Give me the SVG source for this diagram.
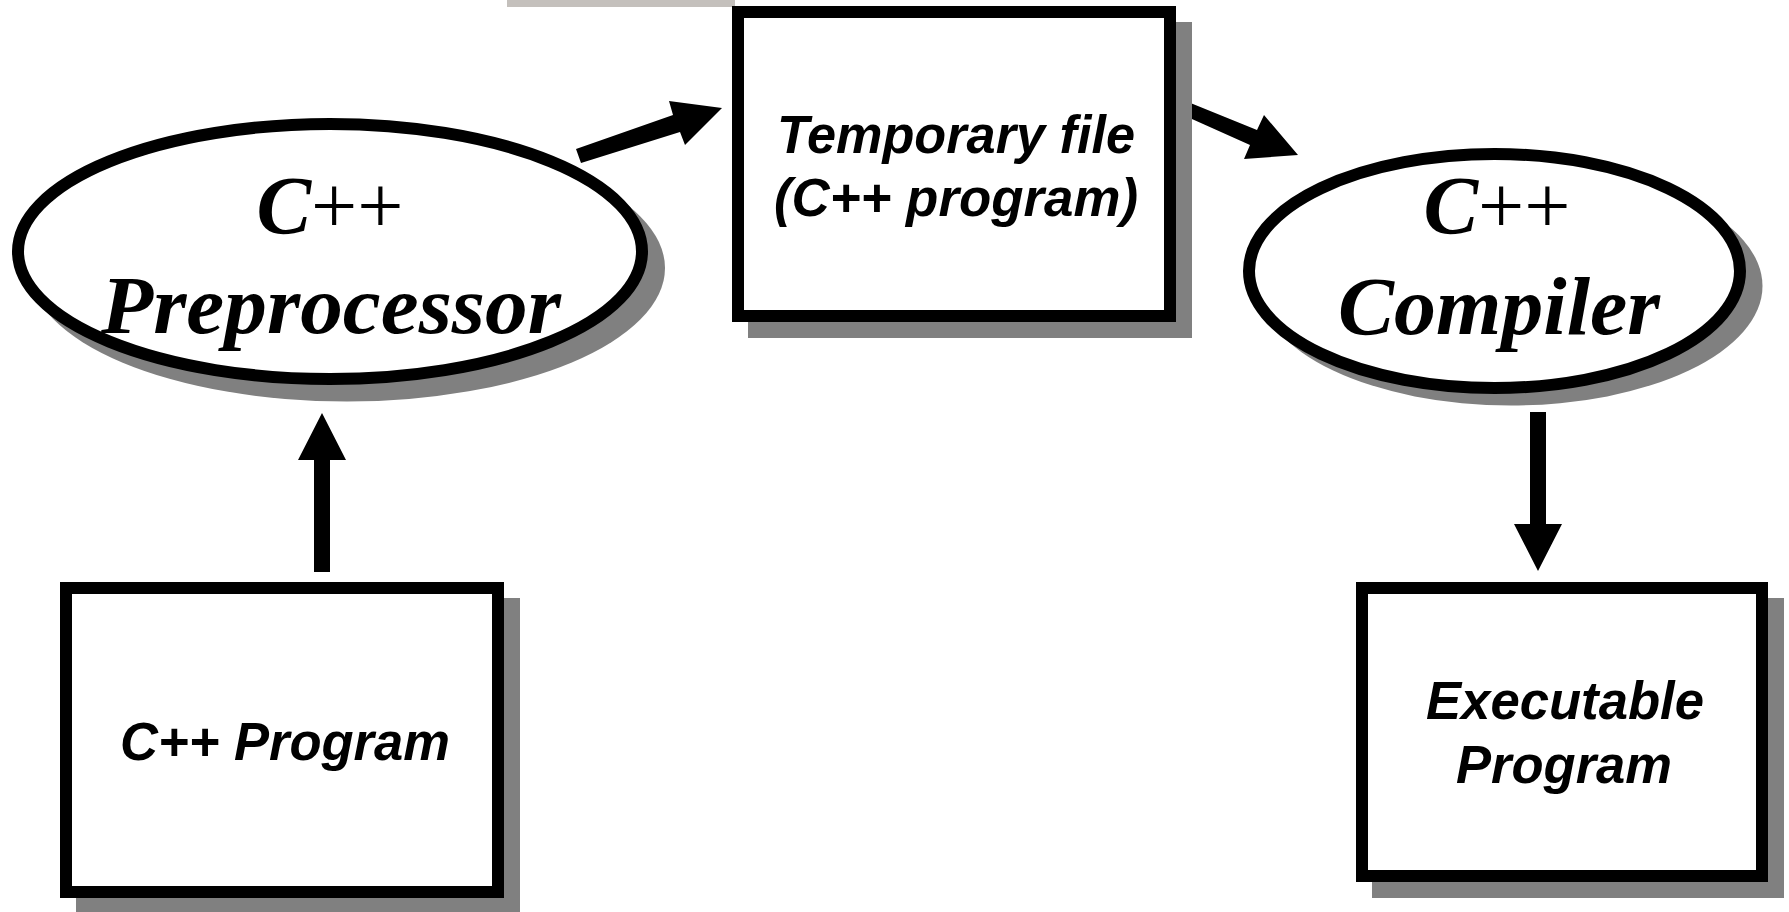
<svg xmlns="http://www.w3.org/2000/svg" width="1789" height="912" viewBox="0 0 1789 912">
<style>
.shadow{fill:#808080;stroke:none}
.box{fill:#fff;stroke:#000;stroke-width:12}
.arrow{fill:#000;stroke:none}
.sans{font-family:"Liberation Sans",Arial,sans-serif;font-weight:bold;font-style:italic;font-size:53px;fill:#000}
.serif{font-family:"Liberation Serif","Times New Roman",serif;font-weight:bold;font-style:italic;font-size:82px;fill:#000}
.plus{font-weight:normal;font-style:normal}
</style>
<rect x="0" y="0" width="1789" height="912" fill="#fff"/>
<rect x="507" y="0" width="228" height="7" fill="#c4c0bc"/>
<g id="connectors">
<polygon class="arrow" points="576,149 673,115 669,101 722,108 685,145 680,132 581,163"/>
<polygon class="arrow" points="1188,102 1257,130 1264,115 1298,155 1244,159 1250,145 1183,115"/>
<polygon class="arrow" points="314,572 314,460 298,460 322,413 346,460 330,460 330,572"/>
<polygon class="arrow" points="1530,412 1530,524 1514,524 1538,571 1562,524 1546,524 1546,412"/>
</g>
<g id="preprocessor">
<ellipse class="shadow" cx="347" cy="268" rx="318" ry="133.5"/>
<ellipse class="box" cx="330" cy="251.5" rx="312" ry="127.5"/>
<text class="serif" x="330" y="233" text-anchor="middle" font-size="90">C<tspan class="plus">++</tspan></text>
<text class="serif" x="331" y="333" text-anchor="middle" textLength="460" lengthAdjust="spacingAndGlyphs">Preprocessor</text>
</g>
<g id="tempfile">
<rect class="shadow" x="748" y="22" width="444" height="316"/>
<rect class="box" x="738" y="12" width="432" height="304"/>
<text class="sans" x="956" y="153" text-anchor="middle" textLength="358" lengthAdjust="spacingAndGlyphs">Temporary file</text>
<text class="sans" x="956" y="216" text-anchor="middle" textLength="364" lengthAdjust="spacingAndGlyphs">(C++ program)</text>
</g>
<g id="compiler">
<ellipse class="shadow" cx="1511" cy="286" rx="251.5" ry="119.5"/>
<ellipse class="box" cx="1494.5" cy="271" rx="245.5" ry="117"/>
<text class="serif" x="1497" y="233" text-anchor="middle" font-size="90">C<tspan class="plus">++</tspan></text>
<text class="serif" x="1499" y="334" text-anchor="middle" font-size="84" textLength="322" lengthAdjust="spacingAndGlyphs">Compiler</text>
</g>
<g id="cppprogram">
<rect class="shadow" x="76" y="598" width="444" height="316"/>
<rect class="box" x="66" y="588" width="432" height="304"/>
<text class="sans" x="285" y="760" text-anchor="middle" textLength="330" lengthAdjust="spacingAndGlyphs">C++ Program</text>
</g>
<g id="executable">
<rect class="shadow" x="1372" y="598" width="412" height="300"/>
<rect class="box" x="1362" y="588" width="400" height="288"/>
<text class="sans" x="1565" y="719" text-anchor="middle" textLength="278" lengthAdjust="spacingAndGlyphs">Executable</text>
<text class="sans" x="1564" y="783" text-anchor="middle" textLength="216" lengthAdjust="spacingAndGlyphs">Program</text>
</g>
</svg>
